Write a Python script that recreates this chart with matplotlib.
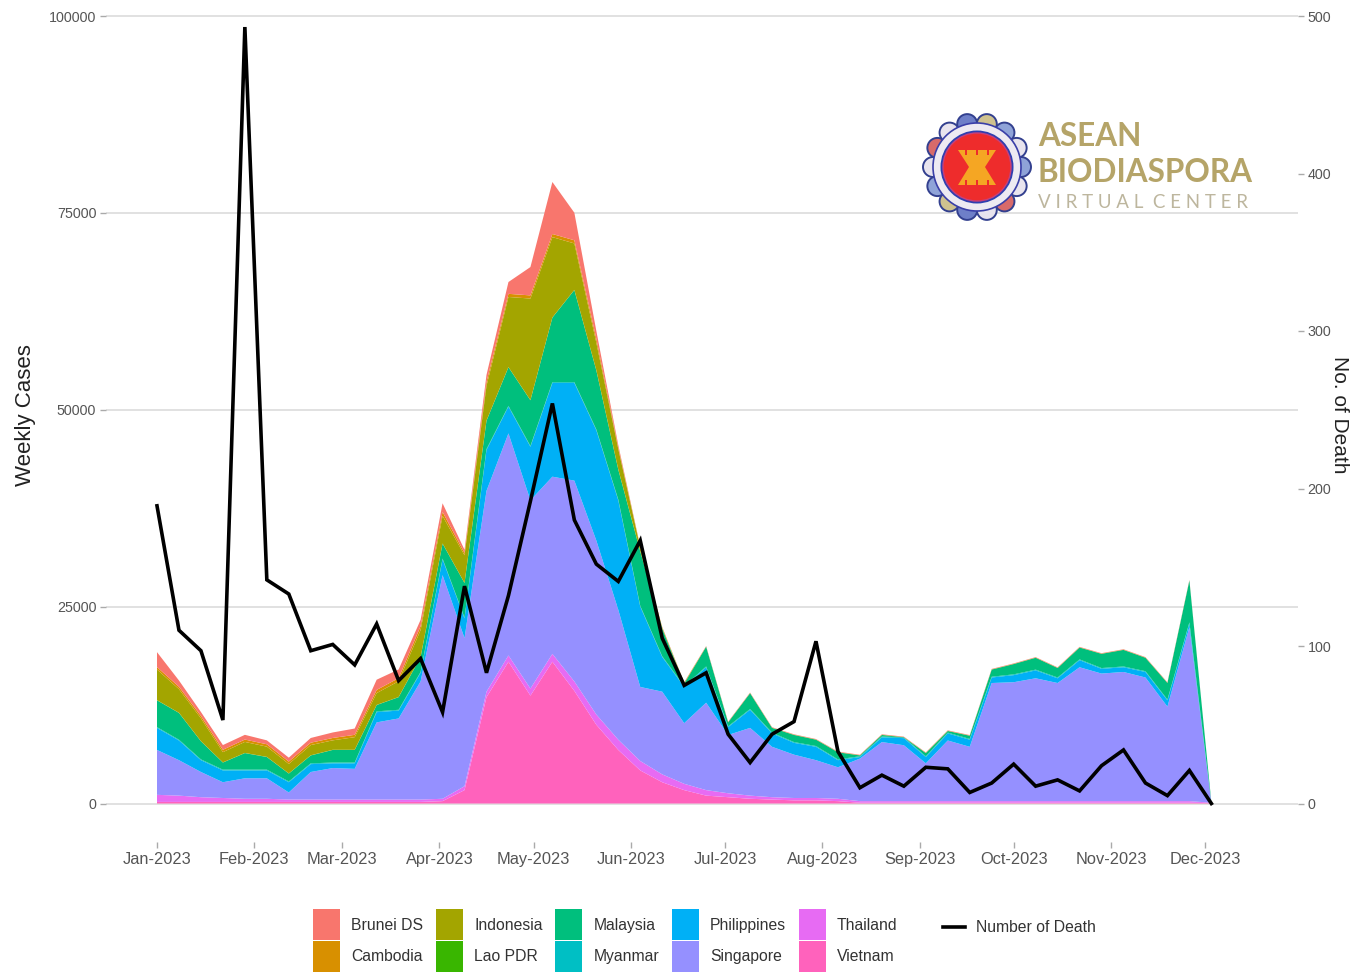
import numpy as np
import pandas as pd
import matplotlib
matplotlib.use('Agg')
import matplotlib.pyplot as plt
import matplotlib.dates as mdates
from matplotlib.lines import Line2D
from matplotlib.patches import Circle, Patch, Polygon, Rectangle

W, H = 1350, 974

weeks = pd.date_range('2023-01-01', periods=49, freq='7D')
month_ticks = pd.date_range('2023-01-01', '2023-12-01', freq='MS')

# weekly cases by country, all in thousands
vietnam = [.2, .2, .2, .2, .2, .2, .2, .2, .2, .2, .2, .2, .2, .3, 1.7, 13.5, 18, 13.7, 18, 14.3, 10, 6.8, 4.2, 2.7, 1.7,
           1, .8, .6, .5, .4, .4, .3, .1, .1, .1, .1, .1, .1, .1, .1, .1, .1, .1, .1, .1, .1, .1, .1, .05]
thailand = [.9, .8, .6, .5, .4, .4, .3, .3, .3, .3, .3, .3, .3, .3, .5, .7, .8, .9, 1, 1.2, 1.3, 1.3, 1.2, 1, .8,
            .7, .5, .4, .3, .3, .3, .3, .2, .2, .2, .2, .2, .2, .2, .2, .2, .2, .2, .2, .2, .2, .2, .2, .05]
singapore = [5.7, 4.5, 3.2, 2, 2.6, 2.6, .9, 3.5, 4, 3.9, 9.8, 10.3, 15, 28.4, 18.8, 25.5, 28.2, 23.9, 22.5, 25.5, 22.1,
             16.5, 9.4, 10.5, 7.7, 11.1, 7.4, 8.6, 6.4, 5.5, 4.8, 4, 5.4, 7.5, 7.1, 4.8, 7.7, 6.9, 15, 15.1, 15.6,
             15, 17, 16.2, 16.4, 15.7, 12, 22.1, 0]
philippines = [2.8, 2.5, 1.5, 1.5, 1, 1, 1.3, 1, .6, .7, 1.3, 1, 1.1, 2, 2.5, 5.2, 3.4, 6.8, 11.9, 12.4, 14, 13.9, 10.2,
               4.4, 4.6, 4.5, 1, 2.3, 1.7, 1.5, 1.7, .9, .2, .6, .9, .8, .9, .9, .7, .9, 1, .6, .9, .6, .6, .7, .8, .5, 0]
myanmar = [.1] * 48 + [0]
malaysia = [3.4, 3.4, 2.3, .9, 2.1, 1.6, 1, 1, 1.6, 1.6, .8, 1.6, 1.9, 1.9, 4.4, 3.6, 4.9, 5.8, 8.2, 11.7, 7.5, 3.8, 6.9,
            3.5, .3, 2.5, .5, 2, .6, .9, .8, .9, .1, .2, 0, .4, .2, .4, .9, 1.3, 1.5, 1.2, 1.5, 1.8, 2.1, 1.7, 2.1, 5.3, .05]
lao = [.02] * 49
indonesia = [3.9, 3, 2.9, 1.3, 1.4, 1.3, 1.2, 1.3, 1.2, 1.6, 1.5, 2, 3.4, 3.5, 3.5, 4.4, 8.9, 12.9, 10.2, 5.9, 3.5, 2.6,
             .5, .1, .1, 0, 0, 0, 0, 0, 0, 0, 0, 0, 0, 0, 0, 0, 0, 0, 0, 0, 0, 0, 0, 0, 0, 0, 0]
cambodia = [.3, .3, .3, .3, .3, .3, .3, .3, .3, .3, .4, .4, .5, .5, .3, .5, .4, .4, .4, .4, .5, .2, .1, .05, .02,
            .02, .02, .02, .02, .02, .02, .02, .02, .02, .02, .02, .02, .02, .02, .02, .02, .02, .02, .02, .02, .02, .02, .02, 0]
brunei = [1.9, .8, .5, .6, .6, .5, .5, .6, .7, .8, 1.3, 1.1, .8, 1.1, .4, .9, 1.5, 3.6, 6.6, 3.5, 1, .3, 0, .05, .05,
          .05, .05, .05, .05, .05, .05, .05, .05, .05, .05, .05, .05, .05, .05, .05, .05, .05, .05, .05, .05, .05, .05, .05, 0]
deaths = [189, 110, 97, 53, 493, 142, 133, 97, 101, 88, 114, 78, 92, 58, 138, 83, 132, 192, 254, 180, 152, 141, 167, 105, 75,
          83, 44, 26, 44, 52, 103, 33, 10, 18, 11, 23, 22, 7, 13, 25, 11, 15, 8, 24, 34, 13, 5, 21, 0]

countries = ['Brunei DS', 'Cambodia', 'Indonesia', 'Lao PDR', 'Malaysia', 'Myanmar', 'Philippines', 'Singapore', 'Thailand', 'Vietnam']
colors = ['#F8766D', '#D89000', '#A3A500', '#39B600', '#00BF7D', '#00BFC4', '#00B0F6', '#9590FF', '#E76BF3', '#FF62BC']
# legend order is top of the stack first, so it gets reversed for drawing
stack = [vietnam, thailand, singapore, philippines, myanmar, malaysia, lao, indonesia, cambodia, brunei]

plt.rcParams['font.family'] = ['Liberation Sans', 'DejaVu Sans']
fig = plt.figure(figsize=(W / 100, H / 100), dpi=100)

# axes box in pixels, from the gridlines of the reference
left, right, top, bottom = 106, 1298, 8, 842
ax = fig.add_axes([left / W, 1 - bottom / H, (right - left) / W, (bottom - top) / H])
px_per_case = (803.5 - 16) / 100000
ax.set_ylim(-(bottom - 803.5) / px_per_case, (803.5 - top) / px_per_case)
px_per_day = 3.138
ax.set_xlim(weeks[0] - pd.Timedelta(days=(157 - left) / px_per_day), weeks[0] + pd.Timedelta(days=(right - 157) / px_per_day))

ax.stackplot(weeks, np.array(stack) * 1000, colors=colors[::-1], linewidth=0, zorder=2)

ax.set_yticks([0, 25000, 50000, 75000, 100000])
ax.set_yticklabels(['0', '25000', '50000', '75000', '100000'])
ax.set_xticks(month_ticks)
ax.xaxis.set_major_formatter(mdates.DateFormatter('%b-%Y'))
ax.grid(axis='y', color='#DEDEDE', lw=1.3, zorder=1)
ax.set_axisbelow(True)
for s in ax.spines.values():
    s.set_visible(False)
ax.tick_params(axis='y', length=4, width=1, color='#AAAAAA', labelcolor='#555555', labelsize=10.3, pad=3)
ax.tick_params(axis='x', length=4, width=1, color='#AAAAAA', labelcolor='#555555', labelsize=11.8, pad=3.5)

ax2 = ax.twinx()
ax2.set_position(ax.get_position())
ax2.set_ylim(ax.get_ylim()[0] / 200, ax.get_ylim()[1] / 200)
ax2.plot(weeks, deaths, color='black', lw=2.6, solid_joinstyle='miter', zorder=5)
ax2.set_yticks([0, 100, 200, 300, 400, 500])
ax2.tick_params(axis='y', length=4, width=1, color='#AAAAAA', labelcolor='#555555', labelsize=10.3, pad=3)
for s in ax2.spines.values():
    s.set_visible(False)

fig.text(25 / W, 1 - 415 / H, 'Weekly Cases', rotation=90, fontsize=16, color='#222222', ha='center', va='center')
fig.text(1339 / W, 1 - 415 / H, 'No. of Death', rotation=-90, fontsize=15, color='#222222', ha='center', va='center')

handles = [Patch(facecolor=c, edgecolor='none') for c in colors]
fig.legend(handles, countries, ncol=5, loc='lower left', bbox_to_anchor=(313 / W, 2 / H), frameon=False, borderpad=0, borderaxespad=0,
           fontsize=11.3, handlelength=1.72, handleheight=2.65, labelspacing=0.05, handletextpad=0.72, columnspacing=0.8, labelcolor='#333333')
fig.legend([Line2D([0], [0], color='black', lw=2.6)], ['Number of Death'], loc='lower left', bbox_to_anchor=(943 / W, 1 - 935 / H), frameon=False,
           borderpad=0, borderaxespad=0, fontsize=11.3, handlelength=1.4, handletextpad=0.72, labelcolor='#333333')

# logo drawn on a pixel-coordinate overlay
logo = fig.add_axes([0, 0, 1, 1], zorder=10)
logo.set_xlim(0, W)
logo.set_ylim(H, 0)
logo.axis('off')
cx, cy = 977, 167
ring_colors = ['#8FA3D8', '#E8E4EE', '#D86A6A', '#E8E4EE', '#6E7FC8', '#CFC28F']
for i, a in enumerate(np.linspace(0, 2 * np.pi, 14, endpoint=False)):
    logo.add_patch(Circle((cx + 44 * np.cos(a), cy + 44 * np.sin(a)), 10, fc=ring_colors[i % 6], ec='#33408F', lw=1.4))
logo.add_patch(Circle((cx, cy), 44, fc='#EDEAF2', ec='#3A3FA8', lw=1.2))
logo.add_patch(Circle((cx, cy), 36.5, fc='#2F3FB0', ec='none'))
logo.add_patch(Circle((cx, cy), 34, fc='#EE2C2C', ec='#C8407A', lw=1))
logo.add_patch(Polygon([(958, 150), (996, 150), (985, 167), (996, 185), (958, 185), (969, 167)], fc='#F5A623', ec='none'))
for xb in (966, 977, 988):
    logo.add_patch(Rectangle((xb - 1, 149), 2, 6, fc='#EE2C2C', ec='none'))
    logo.add_patch(Rectangle((xb - 1, 180), 2, 6, fc='#EE2C2C', ec='none'))
logo.text(1038, 137, 'ASEAN', fontsize=22.7, fontweight='bold', family='Lato', color='#B5A468', va='center')
logo.text(1038, 172, 'BIODIASPORA', fontsize=22.7, fontweight='bold', family='Lato', color='#B5A468', va='center')
logo.text(1038, 202, 'V I R T U A L  C E N T E R', fontsize=13.5, family='Lato', color='#BDB69E', va='center')

plt.savefig('out.png', dpi=100)
plt.close()
